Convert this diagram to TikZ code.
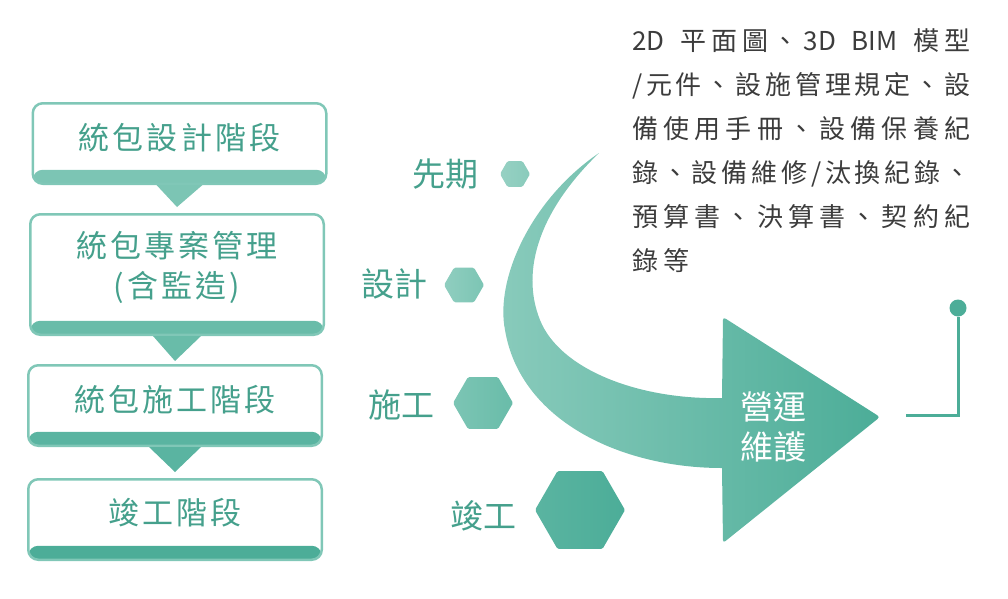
\documentclass[tikz,border=0pt]{standalone}
\usepackage{fontspec}
\usepackage{xcolor}
\usepackage{tikz}
\usetikzlibrary{shapes.geometric,positioning}
\newfontfamily\cjk{Noto Sans CJK TC}
\newfontfamily\cjkwide[LetterSpace=10]{Noto Sans CJK TC}
\definecolor{tealtext}{HTML}{45A08C}
\definecolor{tealline}{HTML}{80C7B7}
\definecolor{bandA}{HTML}{7CC5B4}
\definecolor{bandB}{HTML}{69BCA9}
\definecolor{bandC}{HTML}{5AB4A1}
\definecolor{bandD}{HTML}{4CAD98}
\definecolor{infotext}{HTML}{3C3C3C}
\newcommand\spreadline[1]{\makebox[338pt][s]{\spreadfirst#1{}}}
\newcommand\spreadfirst[1]{#1\spreadtok}
\newcommand\spreadtok[1]{\if\relax\detokenize{#1}\relax\else\hfil#1\expandafter\spreadtok\fi}
\tikzset{
  stage/.style={draw=tealline, line width=2.5pt, rounded corners=10pt, minimum width=293.5pt,
    minimum height=80.5pt, inner sep=0pt,
    path picture={\fill[#1] (path picture bounding box.south west) rectangle ([yshift=14pt]path picture bounding box.south east);}},
  stagetext/.style={text=tealtext, font=\cjkwide\fontsize{31}{40}\selectfont, align=center, inner sep=0pt},
  hexa/.style={regular polygon, regular polygon sides=6, inner sep=0pt, rounded corners=1.5pt},
  phase/.style={text=tealtext, font=\cjk\fontsize{33}{33}\selectfont, inner sep=0pt},
  info/.style={text=infotext, font=\cjk\fontsize{26}{44}\selectfont, align=left, inner sep=0pt},
}
\begin{document}
\begin{tikzpicture}[x=1pt,y=-1pt]
  \useasboundingbox (0,0) rectangle (1008,598);
  \node[stage=bandA, label={[stagetext,yshift=5.5pt]center:統包設計階段}] (s1) at (179.5,143.5) {};
  \node[stage=bandB, minimum height=120.5pt,
    label={[stagetext,yshift=7.5pt]center:統包專案管理\\(含監造)}] (s2) at (177,274.5) {};
  \node[stage=bandC, label={[stagetext,yshift=5.5pt]center:統包施工階段}] (s3) at (175,405.5) {};
  \node[stage=bandD, label={[stagetext,yshift=6.5pt]center:竣工階段}] (s4) at (175,519.5) {};
  \fill[bandA] ([xshift=-23pt]s1.south) -- ([xshift=23pt]s1.south) -- ([yshift=6pt]s2.north) -- cycle;
  \fill[bandB] ([xshift=-24pt]s2.south) -- ([xshift=24pt]s2.south) -- ([yshift=3pt]s3.north) -- cycle;
  \fill[bandC] ([xshift=-26pt]s3.south) -- ([xshift=26pt]s3.south) -- ([yshift=6pt]s4.north) -- cycle;

  \node[hexa, minimum size=30pt, left color=bandA!80!white, right color=bandA!90!white] (h1) at (515,174) {};
  \node[hexa, minimum size=40pt, left color=bandA!85!white, right color=bandA] (h2) at (464,285) {};
  \node[hexa, minimum size=60pt, left color=bandA, right color=bandB] (h3) at (483,403) {};
  \node[hexa, minimum size=90pt, left color=bandC, right color=bandD] (h4) at (580,510) {};
  \node[phase, left=21pt of h1] (p1) {先期};
  \node[phase, left=16pt of h2, yshift=1pt] (p2) {設計};
  \node[phase, left=18pt of h3, yshift=-2pt] (p3) {施工};
  \node[phase, left=18pt of h4, yshift=-6pt] (p4) {竣工};

  \shade[left color=bandA!90!white, right color=bandD]
    (599,153) .. controls (530,200) and (495,280) .. (505,330)
    .. controls (520,420) and (620,468) .. (722,468)
    [rounded corners=3pt] -- (723,543) -- (880,417) -- (723,317) [sharp corners] -- (722,398)
    .. controls (640,400) and (560,370) .. (540,320)
    .. controls (520,270) and (540,210) .. (599,153) -- cycle;
  \node[text=white, font=\cjk\fontsize{33}{40}\selectfont, align=center, inner sep=0pt] (om) at (773,427) {營運\\維護};

  \node[circle, fill=bandD, inner sep=0pt, minimum size=17pt] (dot) at (958,308) {};
  \coordinate (end) at (906,415);
  \draw[bandD, line width=3pt] (dot) |- (end);

  \node[info, anchor=north west] (info) at (632,28) {\spreadline{{2D}~平面圖、{3D}~{BIM}~模型}\\
    \spreadline{/元件、設施管理規定、設}\\\spreadline{備使用手冊、設備保養紀}\\
    \spreadline{錄、設備維修/汰換紀錄、}\\\spreadline{預算書、決算書、契約紀}\\錄\kern5pt等};
\end{tikzpicture}
\end{document}
